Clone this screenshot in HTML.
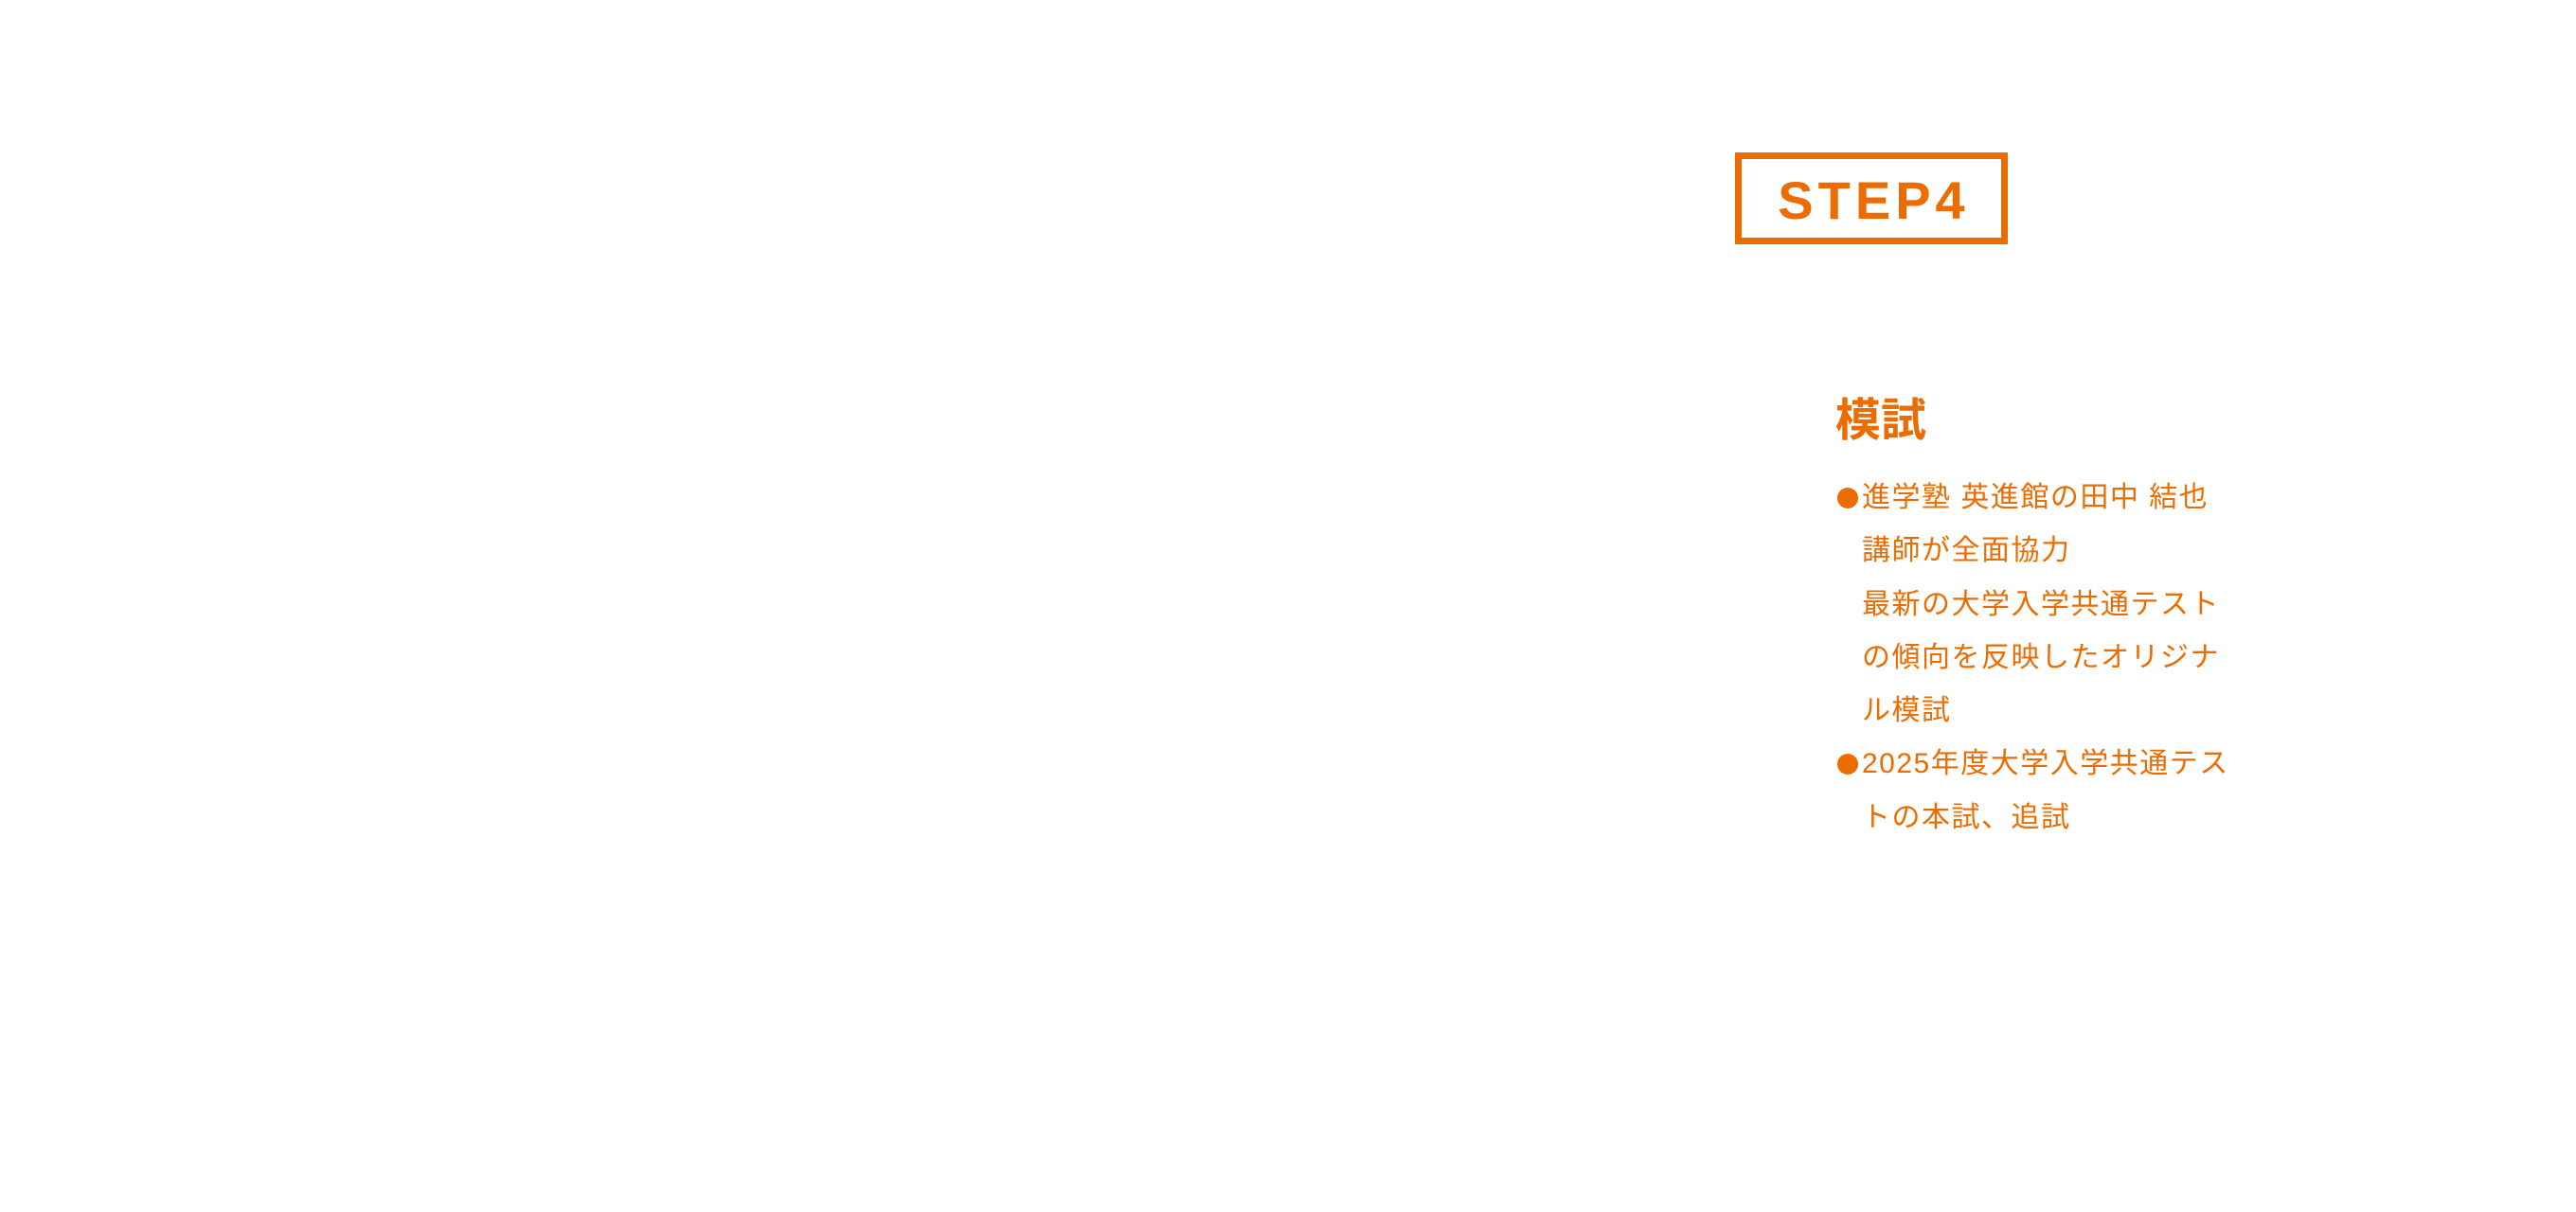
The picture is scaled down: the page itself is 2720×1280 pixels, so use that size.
<!DOCTYPE html>
<html><head><meta charset="utf-8"><style>
body{margin:0;width:2720px;height:1280px;background:#fff;position:relative;overflow:hidden;font-family:"Liberation Sans","Noto Sans CJK JP",sans-serif;color:#ec6c00}
.box{position:absolute;left:1832px;top:161px;width:274px;height:83px;border:7px solid #ec6c00}
.step{position:absolute;left:1832px;top:163px;width:288px;height:97px;line-height:97px;text-align:center;font-weight:bold;font-size:56px;letter-spacing:5px;text-indent:5px}
.h{position:absolute;left:1938px;top:415px;font-size:48px;font-weight:bold;line-height:60px}
.l{position:absolute;left:1939px;top:498px;font-size:30px;line-height:56.3px;letter-spacing:1.5px}
.l div{white-space:nowrap;padding-left:27px;position:relative}
.b::before{content:"";position:absolute;left:1px;top:17px;width:22px;height:22px;border-radius:50%;background:#ec6c00}
</style></head><body>
<div class="box"></div>
<div class="step">STEP4</div>
<div class="h">模試</div>
<div class="l">
<div class="b">進学塾 英進館の田中 結也</div>
<div>講師が全面協力</div>
<div>最新の大学入学共通テスト</div>
<div>の傾向を反映したオリジナ</div>
<div>ル模試</div>
<div class="b">2025年度大学入学共通テス</div>
<div>トの本試、追試</div>
</div>
</body></html>
